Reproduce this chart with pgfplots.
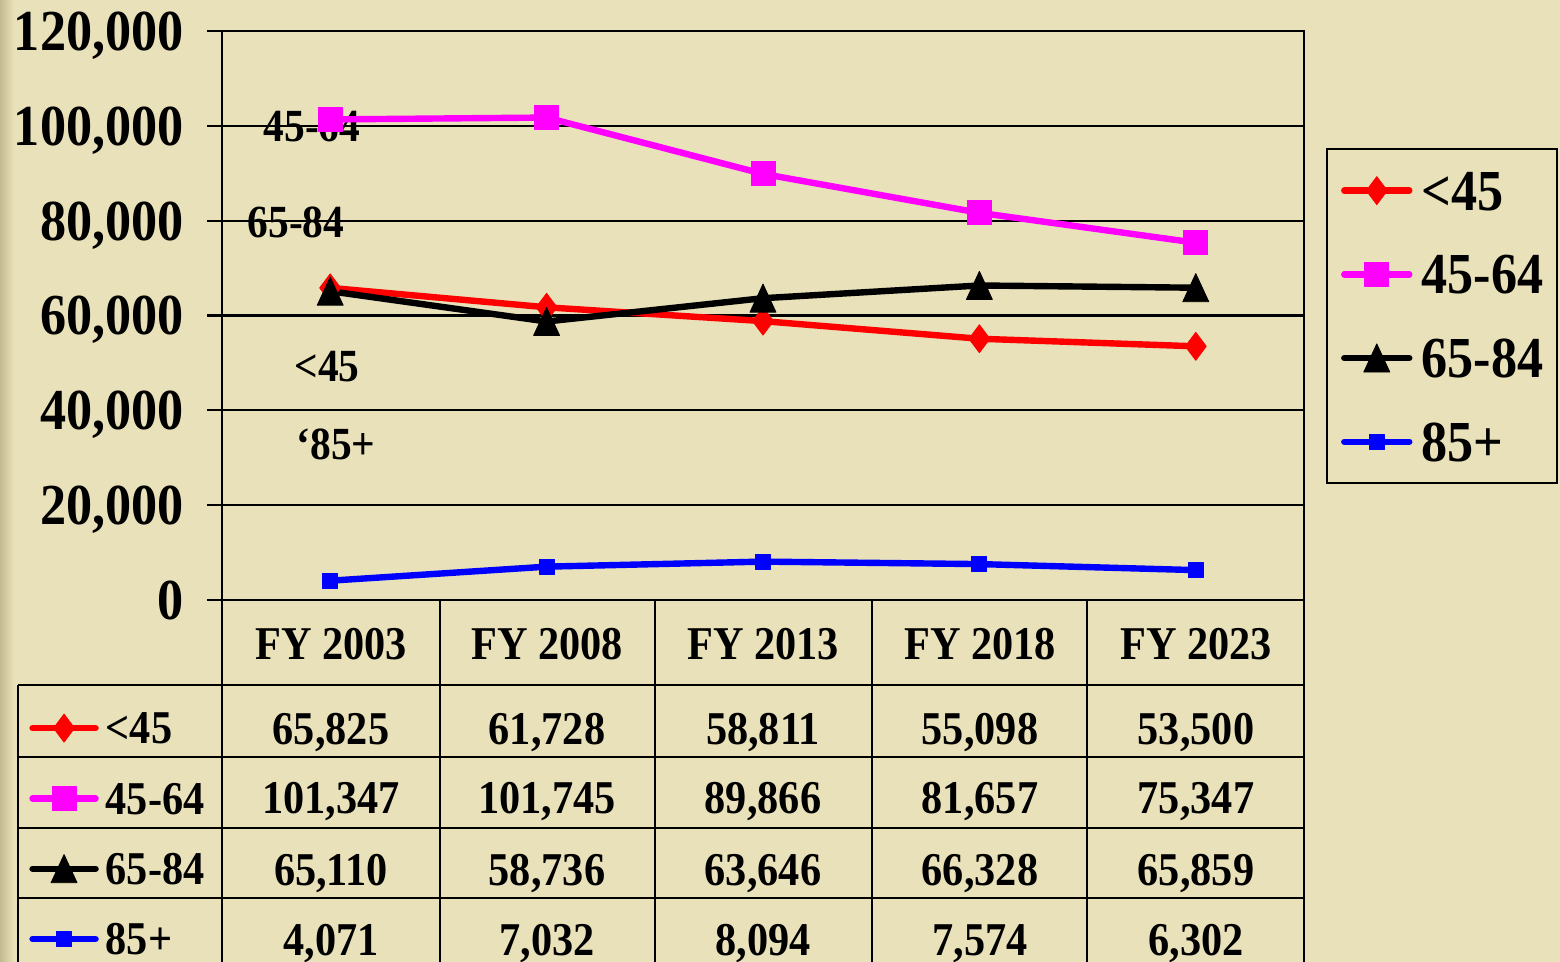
\documentclass[border=0pt]{standalone}
\usepackage{pgfplots}
\pgfplotsset{compat=1.18}
\usepackage{pgfplotstable}
\usepackage{fontspec}
\setmainfont{Liberation Serif}[FakeStretch=0.9]
\definecolor{bgc}{RGB}{232,225,185}
\definecolor{edgec}{RGB}{196,186,146}
\definecolor{mag}{RGB}{255,0,255}

\pgfplotstableread{
x lt45 a4564 a6584 a85
0 65825 101347 65110 4071
1 61728 101745 58736 7032
2 58811 89866 63646 8094
3 55098 81657 66328 7574
4 53500 75347 65859 6302
}\datatable

\pgfplotsset{
  sbase/.style={line width=3.2pt, line cap=round, line join=round},
  s45/.style={sbase, red, mark=diamond*, mark size=7pt, mark options={solid, line width=0.4pt}},
  s4564/.style={sbase, mag, mark=square*, mark size=6pt, mark options={solid, line width=0.4pt}},
  s6584/.style={sbase, black, mark=triangle*, mark size=7.5pt, mark options={solid, line width=0.4pt, yshift=-2.3pt, yscale=1.25}},
  s85/.style={sbase, blue, mark=square*, mark size=3.75pt, mark options={solid, line width=0.4pt}},
}

\begin{document}
\begin{tikzpicture}
\useasboundingbox (0pt,0pt) rectangle (780pt,-481pt);
\fill[bgc] (0pt,0pt) rectangle (780pt,-481pt);
\shade[left color=edgec, right color=bgc] (0pt,0pt) rectangle (7pt,-481pt);

\begin{scope}[x=0.5pt, y=-0.5pt]
\tikzset{ann/.style={anchor=base, inner sep=0pt, font=\fontsize{23}{23}\selectfont\bfseries}}
\node[ann] at (312,142) {45-64};
\node[ann] at (296,238) {65-84};
\node[ann] at (327,382) {<45};
\node[ann] at (336,460) {‘85+};
\end{scope}

\begin{axis}[
  at={(111pt,-300pt)}, anchor=south west,
  width=541pt, height=284.5pt, scale only axis,
  xmin=-0.5, xmax=4.5, ymin=0, ymax=120000,
  xtick=\empty,
  ytick={0,20000,40000,60000,80000,100000,120000},
  ymajorgrids, grid style={black, line width=1.15pt},
  axis line style={black, line width=1.25pt},
  tick align=outside, ytick pos=left, major tick length=7.5pt,
  every tick/.style={black, line width=1.15pt},
  scaled y ticks=false,
  yticklabel style={font=\fontsize{29}{29}\selectfont\bfseries, text height=19.5pt, text depth=0pt, inner sep=0pt, anchor=east, xshift=-11.5pt,
    /pgf/number format/fixed, /pgf/number format/precision=0,
    /pgf/number format/1000 sep={,}, /pgf/number format/assume math mode=true},
  clip=false,
  legend cell align=left,
  legend style={at={(1.0203,0.7944)}, anchor=north west, draw=black, line width=1.15pt, fill=none,
    inner xsep=7pt, inner ysep=11pt, row sep=22.35pt, column sep=4.5pt,
    font=\fontsize{29}{29}\selectfont\bfseries,
    nodes={inner sep=0pt, text height=19.5pt, text depth=0pt, anchor=base west},
    cells={anchor=base west}},
  legend image code/.code={\draw[mark repeat=2,mark phase=2,#1] plot coordinates {(0pt,9.75pt) (16.25pt,9.75pt) (32.5pt,9.75pt)};},
]
\addplot[s45] table[x=x,y=lt45]{\datatable}; \addlegendentry{<45}
\addplot[s4564] table[x=x,y=a4564]{\datatable}; \addlegendentry{45-64}
\addplot[s6584] table[x=x,y=a6584]{\datatable}; \addlegendentry{65-84}
\addplot[s85] table[x=x,y=a85]{\datatable}; \addlegendentry{85+}
\end{axis}

\begin{axis}[
  at={(111pt,-300pt)}, anchor=south west,
  width=541pt, height=284.5pt, scale only axis, hide axis,
  xmin=-0.5, xmax=4.5, ymin=0, ymax=120000,
  legend cell align=left,
  legend style={at={(-0.1784,-0.1968)}, anchor=north west, draw=none, fill=none, inner sep=0pt,
    row sep=19.4pt, column sep=3.5pt,
    font=\fontsize{23.5}{23.5}\selectfont\bfseries,
    nodes={inner sep=0pt, text height=15.75pt, text depth=0pt, anchor=base west},
    cells={anchor=base west}},
  legend image code/.code={\draw[mark repeat=2,mark phase=2,#1] plot coordinates {(0pt,7.875pt) (15.75pt,7.875pt) (31.5pt,7.875pt)};},
]
\addlegendimage{s45}\addlegendentry{<45}
\addlegendimage{s4564}\addlegendentry{45-64}
\addlegendimage{s6584}\addlegendentry{65-84}
\addlegendimage{s85}\addlegendentry{85+}
\end{axis}

\begin{scope}[x=0.5pt, y=-0.5pt, line width=1.15pt]
\foreach \yy in {685,757,828,898} \draw (18,\yy) -- (1304,\yy);
\foreach \xx in {222,440,655,872,1087,1304} \draw (\xx,600) -- (\xx,975);
\draw (18,685) -- (18,975);
\tikzset{tc/.style={anchor=base, inner sep=0pt, font=\fontsize{23.5}{23.5}\selectfont\bfseries}}
\foreach \xx/\fy/\va/\vb/\vc/\vd in {
  331/FY 2003/65{,}825/101{,}347/65{,}110/4{,}071,
  547/FY 2008/61{,}728/101{,}745/58{,}736/7{,}032,
  763/FY 2013/58{,}811/89{,}866/63{,}646/8{,}094,
  980/FY 2018/55{,}098/81{,}657/66{,}328/7{,}574,
  1196/FY 2023/53{,}500/75{,}347/65{,}859/6{,}302} {
  \node[tc] at (\xx,660) {\fy};
  \node[tc] at (\xx,745) {\va};
  \node[tc] at (\xx,813) {\vb};
  \node[tc] at (\xx,885) {\vc};
  \node[tc] at (\xx,955) {\vd};
}
\end{scope}
\end{tikzpicture}
\end{document}
